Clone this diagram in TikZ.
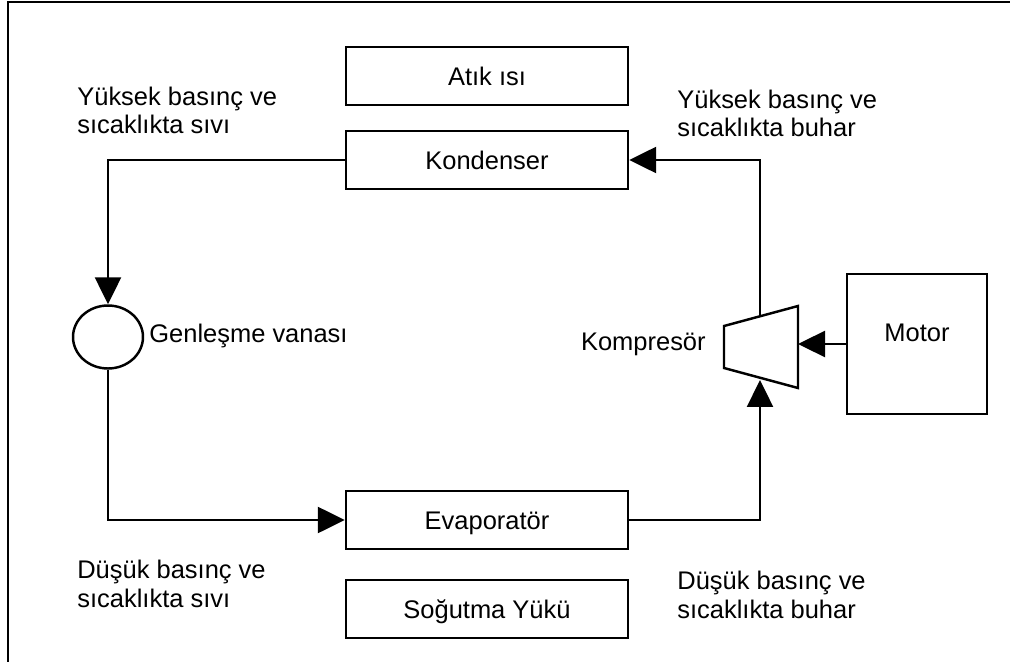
\documentclass[tikz,border=0pt]{standalone}
\usepackage{fontspec}
\setmainfont{Liberation Sans}
\usepackage{tikz}
\usetikzlibrary{arrows.meta, shapes.geometric}
\tikzstyle{box} = [rectangle, draw, line width=1.4pt, minimum width=5.64cm, minimum height=1.16cm, inner sep=0pt, text height=0.37cm, text depth=0pt]
\tikzstyle{lbl} = [align=left, inner sep=0pt, anchor=base west]
\tikzstyle{line} = [line width=1.4pt]
\tikzstyle{arrow} = [line width=1.4pt, -{Triangle[length=0.54cm,width=0.52cm]}]

\begin{document}
\begin{tikzpicture}[x=0.02cm, y=-0.02cm, font=\fontsize{14.5pt}{16.5pt}\selectfont]
\useasboundingbox (0,0) rectangle (1010,662);
\draw [line] (8,662) -- (8,2) -- (1010,2);

\node [box] (atik) at (487,76) {Atık ısı};
\node [box] (kond) at (487,160) {Kondenser};
\node [box] (evap) at (487,520) {Evaporatör};
\node [box] (sogut) at (487,609) {Soğutma Yükü};
\node [box, minimum width=2.8cm, minimum height=2.8cm, text depth=0.49cm] (motor) at (917,344) {Motor};
\node [ellipse, draw, line width=1.4pt, minimum width=1.4cm, minimum height=1.26cm, inner sep=0pt] (vana) at (108,337) {};

% kompresor
\coordinate (k1) at (724,326);
\coordinate (k2) at (798,306);
\coordinate (k3) at (798,388);
\coordinate (k4) at (724,368);
\draw [line, line join=miter] (k1) -- (k2) -- (k3) -- (k4) -- cycle;
\coordinate (kin) at (760,380);
\coordinate (kout) at (760,316);
\coordinate (kshaft) at (798,344);

\node [lbl] (ytl) at (77,134) {Yüksek basınç ve\\sıcaklıkta sıvı};
\node [lbl] (ytr) at (677,137) {Yüksek basınç ve\\sıcaklıkta buhar};
\node [lbl] (dbl) at (77,607) {Düşük basınç ve\\sıcaklıkta sıvı};
\node [lbl] (dbr) at (677,618) {Düşük basınç ve\\sıcaklıkta buhar};
\node [lbl] (gen) at (149,342) {Genleşme vanası};
\node [inner sep=0pt, anchor=base east] (komp) at (706,350) {Kompresör};

\draw [arrow] (kond.west) -| (vana.north);
\draw [arrow] (vana.south) |- (evap.west);
\draw [arrow] (evap.east) -| (kin);
\draw [arrow] (kout) |- (kond.east);
\draw [arrow] (motor.west) -- (kshaft);
\end{tikzpicture}
\end{document}
